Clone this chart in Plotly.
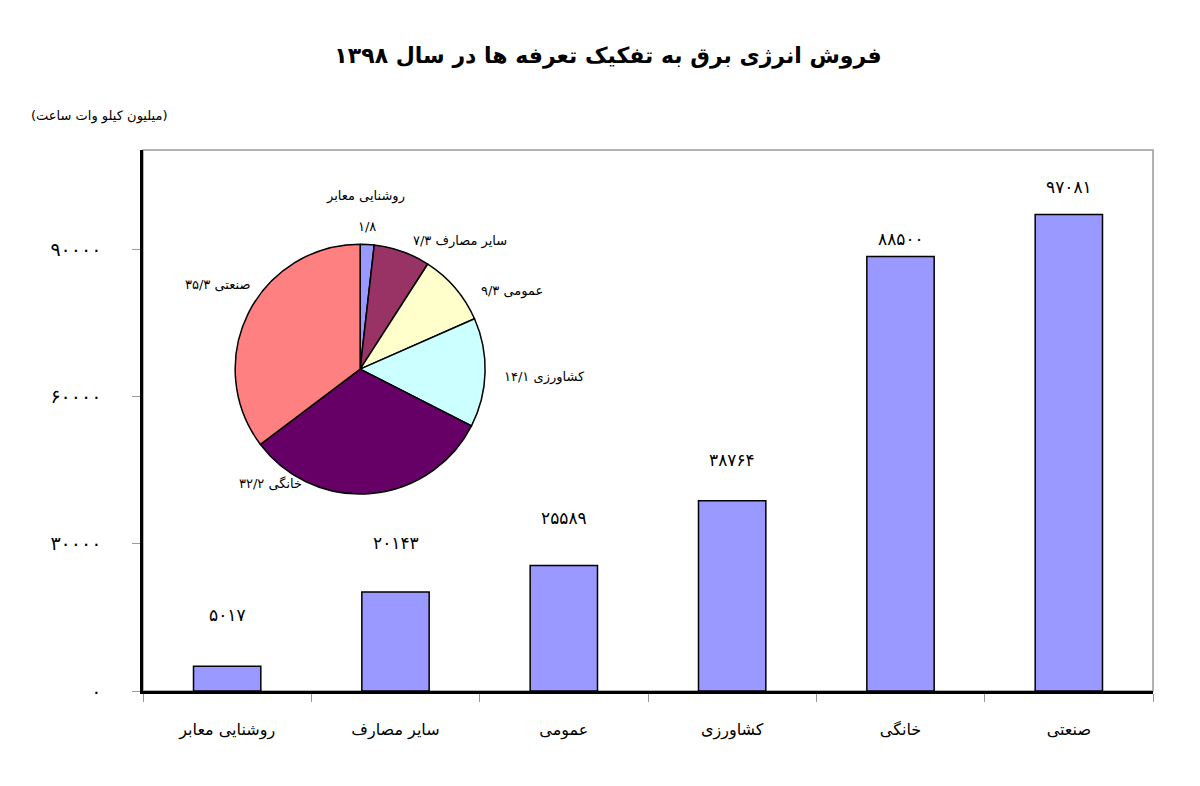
import plotly.graph_objects as go

# داده‌ها
categories = ["روشنایی معابر", "سایر مصارف", "عمومی", "کشاورزی", "خانگی", "صنعتی"]
sales = [5017, 20143, 25589, 38764, 88500, 97081]
sales_labels = ["۵۰۱۷", "۲۰۱۴۳", "۲۵۵۸۹", "۳۸۷۶۴", "۸۸۵۰۰", "۹۷۰۸۱"]
shares = [1.8, 7.3, 9.3, 14.1, 32.2, 35.3]
share_labels = ["روشنایی معابر", "سایر مصارف ۷/۳", "عمومی ۹/۳",
                "کشاورزی ۱۴/۱", "خانگی ۳۲/۲", "صنعتی ۳۵/۳"]
y_ticks = [0, 30000, 60000, 90000]
y_tick_labels = ["۰", "۳۰۰۰۰", "۶۰۰۰۰", "۹۰۰۰۰"]

FONT = "DejaVu Sans"
pie_colors = ["#9999FF", "#993366", "#FFFFCC", "#CCFFFF", "#660066", "#FF8080"]
label_shift = [39, 37, 35, 29, 6, 15]
# جای برچسب‌های دایره (کسر کاغذ)
pie_label_pos = [(0.220, 0.915), (0.314, 0.832), (0.365, 0.739),
                 (0.398, 0.580), (0.126, 0.383), (0.074, 0.752)]

fig = go.Figure()

fig.add_bar(
    x=categories, y=sales, width=0.4,
    marker=dict(color="#9999FF", line=dict(color="black", width=1.5)),
    showlegend=False, hoverinfo="skip",
)

# برچسب مقادیر بالای ستون‌ها
for cat, val, txt, sh in zip(categories, sales, sales_labels, label_shift):
    fig.add_annotation(x=cat, y=val, text=txt, showarrow=False, yanchor="bottom",
                       yshift=sh, font=dict(family=FONT, size=17, color="black"))

# نمودار دایره‌ای درصد سهم
fig.add_pie(
    values=shares, textinfo="none",
    sort=False, direction="clockwise", rotation=0,
    marker=dict(colors=pie_colors, line=dict(color="black", width=1.5)),
    domain=dict(x=[0.091, 0.339], y=[0.364, 0.826]),
    showlegend=False, hoverinfo="skip",
)
for txt, (px_, py_) in zip(share_labels, pie_label_pos):
    fig.add_annotation(text=txt, xref="paper", yref="paper", x=px_, y=py_,
                       xanchor="center", yanchor="middle", showarrow=False,
                       font=dict(family=FONT, size=13, color="black"))
fig.add_annotation(text="۱/۸", xref="paper", yref="paper", x=0.222, y=0.858,
                   xanchor="center", yanchor="middle", showarrow=False,
                   font=dict(family=FONT, size=13, color="black"))

fig.update_layout(
    width=1200, height=786,
    margin=dict(l=135, r=55, t=142, b=103),
    paper_bgcolor="white", plot_bgcolor="white",
    font=dict(family=FONT, color="black"),
    title=dict(text="<b>فروش انرژی برق به تفکیک تعرفه ها در سال ۱۳۹۸</b>",
               x=0.5, xanchor="center", y=0.94, yanchor="middle",
               font=dict(family=FONT, size=22, color="black")),
)

fig.update_xaxes(
    showline=True, linecolor="black", linewidth=2.5,
    ticks="outside", tickson="boundaries", ticklen=8, tickcolor="#999999",
    ticklabelstandoff=22, tickfont=dict(family=FONT, size=16, color="black"),
    showgrid=False,
)
fig.update_yaxes(
    range=[0, 110200], tickvals=y_ticks, ticktext=y_tick_labels,
    showline=True, linecolor="black", linewidth=2.5,
    ticks="outside", ticklen=8, tickcolor="#999999",
    ticklabelstandoff=27, tickfont=dict(family=FONT, size=19, color="black"),
    showgrid=False, zeroline=False,
)

# قاب خاکستری ناحیه نمودار
fig.add_shape(type="rect", xref="paper", yref="paper", x0=0, x1=1, y0=0, y1=1,
              line=dict(color="#999999", width=1.5), layer="below")

fig.add_annotation(text="(میلیون کیلو وات ساعت)", xref="paper", yref="paper",
                   x=-0.043, y=1.062, showarrow=False, xanchor="center",
                   yanchor="middle", font=dict(family=FONT, size=13, color="black"))

fig.write_html("out.html")
